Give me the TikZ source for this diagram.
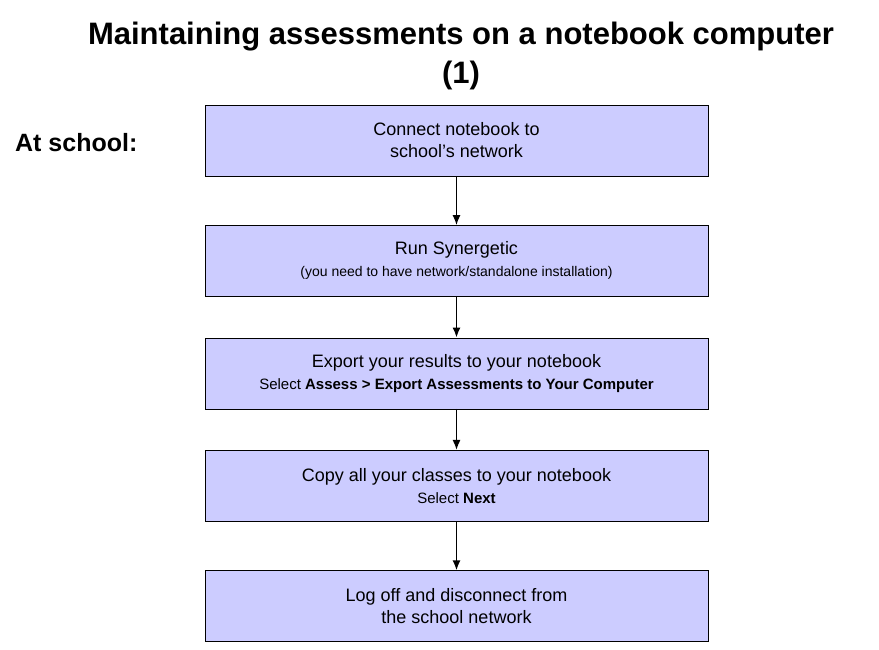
\documentclass[tikz,border=0pt]{standalone}
\usepackage{fontspec}
\setmainfont{Liberation Sans}
\usetikzlibrary{positioning,arrows.meta}
\definecolor{boxfill}{RGB}{204,204,255}

\begin{document}
\begin{tikzpicture}[
    x=1pt, y=1pt,
    node distance=49pt,
    stepbox/.style={rectangle, draw, fill=boxfill, minimum width=503pt, minimum height=71pt, align=center, font=\fontsize{18}{22}\selectfont, inner sep=0pt},
    arrow/.style={-{Latex[length=10pt,width=8pt]}, line width=1.6pt}
]
    \useasboundingbox (0,0) rectangle (879,649);
    \node[font=\fontsize{31}{39}\selectfont\bfseries, align=center] (title) at (461,593) {Maintaining assessments on a notebook computer\\(1)};
    \node[font=\fontsize{25}{28}\selectfont\bfseries, anchor=west, inner sep=0pt] (where) at (15,506) {At school:};

    \node[stepbox] (connect) at (456.5,508.5) {Connect notebook to\\school’s network};
    \node[stepbox, below=of connect] (run) {Run Synergetic\\{\fontsize{14}{16}\selectfont (you need to have network/standalone installation)}};
    \node[stepbox, below=41pt of run] (export) {Export your results to your notebook\\{\fontsize{15}{16}\selectfont Select \textbf{Assess > Export Assessments to Your Computer}}};
    \node[stepbox, below=41pt of export] (copy) {Copy all your classes to your notebook\\{\fontsize{15}{16}\selectfont Select \textbf{Next}}};
    \node[stepbox, below=of copy] (logoff) {Log off and disconnect from\\the school network};

    \draw[arrow] (connect) -- (run);
    \draw[arrow] (run) -- (export);
    \draw[arrow] (export) -- (copy);
    \draw[arrow] (copy) -- (logoff);
\end{tikzpicture}
\end{document}
